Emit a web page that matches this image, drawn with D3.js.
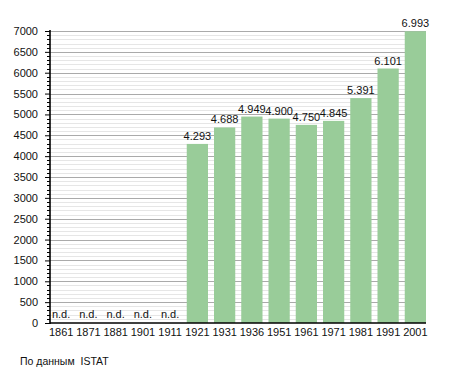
<!DOCTYPE html>
<html>
<head>
<meta charset="utf-8">
<script src="https://cdn.jsdelivr.net/npm/d3@7"></script>
<style>
  body { margin: 0; background: #fff; }
  text { font-family: "Liberation Sans", Arial, sans-serif; }
</style>
</head>
<body>
<script>
// data
var years = ["1861", "1871", "1881", "1901", "1911", "1921", "1931", "1936", "1951", "1961", "1971", "1981", "1991", "2001"];
var population = [null, null, null, null, null, 4293, 4688, 4949, 4900, 4750, 4845, 5391, 6101, 6993];
var yTicks = [0, 500, 1000, 1500, 2000, 2500, 3000, 3500, 4000, 4500, 5000, 5500, 6000, 6500, 7000];
var source = "По данным  ISTAT";

var w = 455, h = 373;
var plotLeft = 50, plotRight = 426, plotTop = 31, plotBottom = 323;

var svg = d3.select("body").append("svg")
  .attr("width", w).attr("height", h);

var x = d3.scaleBand()
  .domain(years)
  .range([plotLeft + 0.5, plotRight])
  .paddingInner(0.22)
  .paddingOuter(0);

var y = d3.scaleLinear()
  .domain([0, 7000])
  .range([plotBottom, plotTop]);

// grid, minor every 100 then major every 500
var minor = d3.range(100, 7001, 100).filter(function (d) { return d % 500 !== 0; });
svg.append("g").selectAll("line").data(minor).enter().append("line")
  .attr("x1", plotLeft).attr("x2", plotRight)
  .attr("y1", function (d) { return Math.round(y(d)) + 0.5; })
  .attr("y2", function (d) { return Math.round(y(d)) + 0.5; })
  .attr("stroke", "#e6e6e6").attr("stroke-width", 1);

svg.append("g").selectAll("line").data(yTicks.slice(1)).enter().append("line")
  .attr("x1", plotLeft).attr("x2", plotRight)
  .attr("y1", function (d) { return Math.round(y(d)) + 0.5; })
  .attr("y2", function (d) { return Math.round(y(d)) + 0.5; })
  .attr("stroke", "#aaaaaa").attr("stroke-width", 1);

// bars
svg.append("g").selectAll("rect")
  .data(years.filter(function (d, i) { return population[i] !== null; }))
  .enter().append("rect")
  .attr("x", function (d) { return x(d); })
  .attr("width", x.bandwidth())
  .attr("y", function (d) { return y(population[years.indexOf(d)]); })
  .attr("height", function (d) { return plotBottom - y(population[years.indexOf(d)]); })
  .attr("fill", "#99cc99");

// value labels
var fmt = function (v) { return d3.format(",")(v).replace(/,/g, "."); };
svg.append("g").selectAll("text").data(years).enter().append("text")
  .attr("x", function (d) { return x(d) + x.bandwidth() / 2; })
  .attr("y", function (d, i) { return population[i] === null ? plotBottom - 5 : y(population[i]) - 4; })
  .attr("text-anchor", "middle")
  .style("font-size", "11px")
  .attr("fill", "#111")
  .text(function (d, i) { return population[i] === null ? "n.d." : fmt(population[i]); });

// y axis
var yAxis = svg.append("g")
  .attr("transform", "translate(" + plotLeft + ",0)")
  .call(d3.axisLeft(y).tickValues(yTicks).tickSize(5).tickPadding(7).tickFormat(d3.format("d")));
yAxis.select(".domain").remove();
yAxis.selectAll("text").style("font-size", "11px").attr("fill", "#111");
yAxis.selectAll("line").attr("stroke", "#000");

svg.append("g").selectAll("line").data(minor).enter().append("line")
  .attr("x1", plotLeft - 3).attr("x2", plotLeft)
  .attr("y1", function (d) { return Math.round(y(d)) + 0.5; })
  .attr("y2", function (d) { return Math.round(y(d)) + 0.5; })
  .attr("stroke", "#000");

svg.append("line")
  .attr("x1", plotLeft).attr("x2", plotLeft)
  .attr("y1", plotTop - 1).attr("y2", plotBottom + 1)
  .attr("stroke", "#000").attr("stroke-width", 1.6);

// x axis
var xAxis = svg.append("g")
  .attr("transform", "translate(0," + plotBottom + ")")
  .call(d3.axisBottom(x).tickSize(0).tickPadding(5));
xAxis.select(".domain").remove();
xAxis.selectAll("text").style("font-size", "11px").attr("fill", "#111");

svg.append("line")
  .attr("x1", plotLeft).attr("x2", plotRight)
  .attr("y1", plotBottom).attr("y2", plotBottom)
  .attr("stroke", "#000").attr("stroke-width", 1.6);

// source note
svg.append("text")
  .attr("x", 20).attr("y", 365)
  .style("font-size", "10.5px")
  .style("white-space", "pre")
  .attr("fill", "#111")
  .text(source);
</script>
</body>
</html>
